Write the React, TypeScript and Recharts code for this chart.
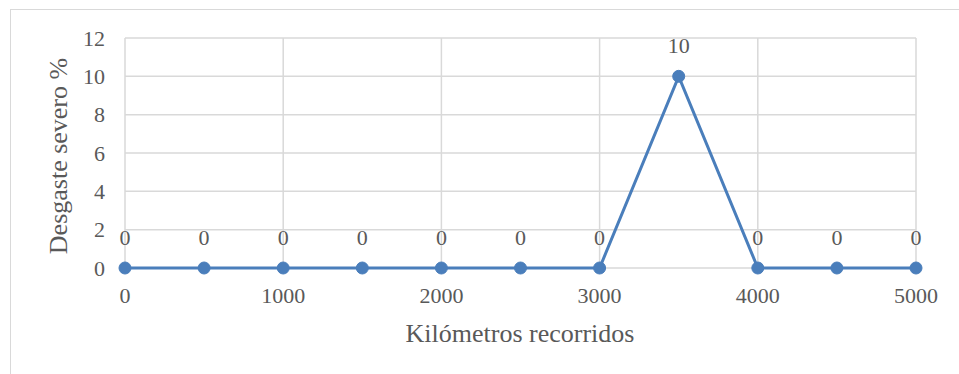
import { CartesianGrid, LabelList, Line, LineChart, XAxis, YAxis } from "recharts";

const km = [0, 500, 1000, 1500, 2000, 2500, 3000, 3500, 4000, 4500, 5000];
const wear = [0, 0, 0, 0, 0, 0, 0, 10, 0, 0, 0];
const xTicks = [0, 1000, 2000, 3000, 4000, 5000];
const yTicks = [0, 2, 4, 6, 8, 10, 12];

const data = km.map((k, i) => ({ km: k, wear: wear[i] }));

const FONT = '"Liberation Serif", "Times New Roman", serif';
const TEXT = "#595959";
const GRID = "#d9d9d9";
const BLUE = "#4a7ebb";

export default function App() {
  return (
    <div
      style={{
        position: "absolute",
        left: 0,
        top: 0,
        width: 959,
        height: 374,
        background: "#fff",
        overflow: "hidden",
        fontFamily: FONT,
      }}
    >
      {/* chart area frame, only left and top edges visible */}
      <div
        style={{
          position: "absolute",
          left: 10,
          top: 9,
          width: 1200,
          height: 600,
          border: `1px solid ${GRID}`,
        }}
      />
      <LineChart
        width={959}
        height={374}
        data={data}
        margin={{ top: 38, right: 43, bottom: 26, left: 0 }}
        style={{ position: "absolute", left: 0, top: 0 }}
      >
        <CartesianGrid stroke={GRID} strokeWidth={1.5} />
        <XAxis
          dataKey="km"
          type="number"
          domain={[0, 5000]}
          ticks={xTicks}
          height={80}
          axisLine={false}
          tickLine={false}
          tickSize={0}
          tickMargin={19}
          tick={{ fill: TEXT, fontSize: 22, fontFamily: FONT }}
          label={() => (
            <text
              x={520}
              y={342}
              textAnchor="middle"
              fill={TEXT}
              fontSize={26}
              fontFamily={FONT}
            >
              Kilómetros recorridos
            </text>
          )}
        />
        <YAxis
          type="number"
          domain={[0, 12]}
          ticks={yTicks}
          width={125}
          axisLine={false}
          tickLine={false}
          tickSize={0}
          tickMargin={20}
          tick={{ fill: TEXT, fontSize: 22, fontFamily: FONT }}
          label={() => (
            <text
              x={67}
              y={156}
              transform="rotate(-90, 67, 156)"
              textAnchor="middle"
              fill={TEXT}
              fontSize={26}
              fontFamily={FONT}
            >
              Desgaste severo %
            </text>
          )}
        />
        <Line
          dataKey="wear"
          stroke={BLUE}
          strokeWidth={3}
          dot={{ r: 6, fill: BLUE, stroke: BLUE, strokeWidth: 1 }}
          isAnimationActive={false}
        >
          <LabelList
            dataKey="wear"
            position="top"
            offset={23}
            fill={TEXT}
            fontSize={22}
            fontFamily={FONT}
          />
        </Line>
      </LineChart>
    </div>
  );
}
